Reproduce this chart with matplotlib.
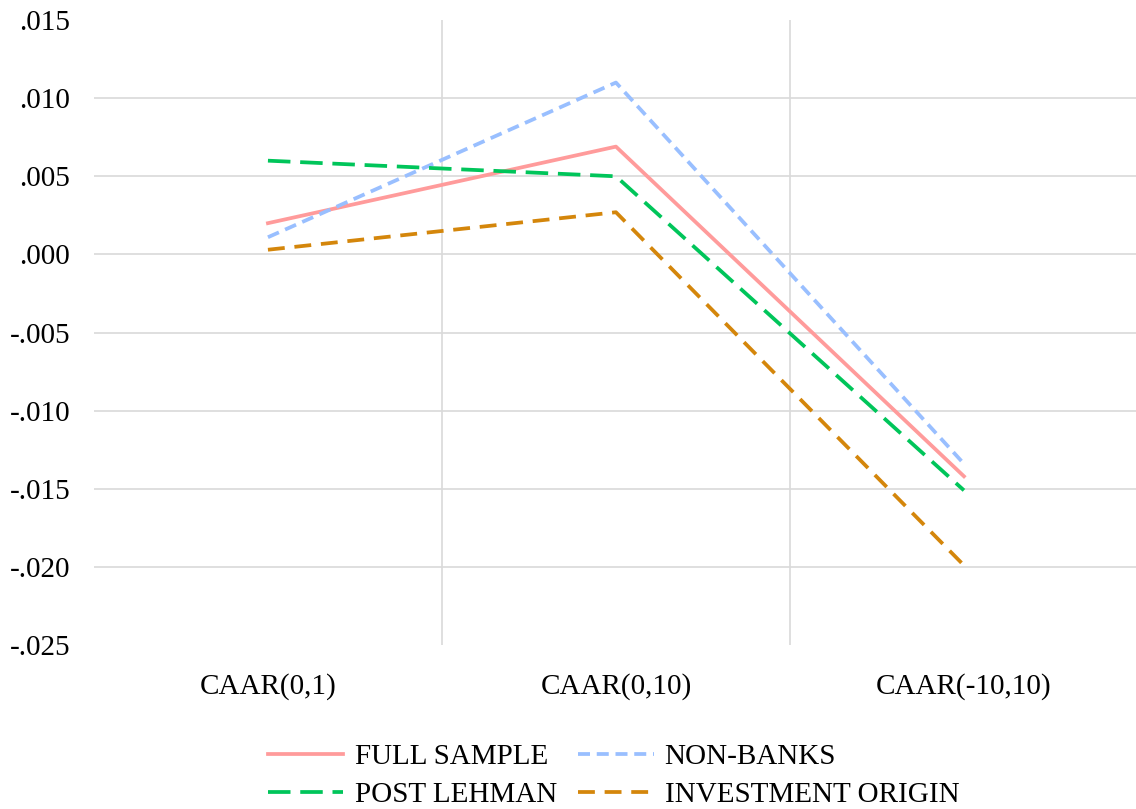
import matplotlib.pyplot as plt
from matplotlib.ticker import FuncFormatter, FixedLocator

categories = ['CAAR(0,1)', 'CAAR(0,10)', 'CAAR(-10,10)']
full_sample = [0.0020, 0.0069, -0.0142]
non_banks = [0.0011, 0.0110, -0.0134]
post_lehman = [0.0060, 0.0050, -0.0151]
investment_origin = [0.0003, 0.0027, -0.0199]

plt.rcParams['font.family'] = ['Liberation Serif', 'DejaVu Serif']

fig = plt.figure(figsize=(11.36, 8.09), dpi=100)
ax = fig.add_axes([0.0827, 0.2027, 0.919, 0.7725])

x = range(len(categories))
lw = 2.7
l1, = ax.plot(x, full_sample, color='#FF9B9B', lw=lw, label='FULL SAMPLE')
l2, = ax.plot(x, non_banks, color='#99BFFF', lw=lw, dashes=(3.2, 1.8), label='NON-BANKS')
l3, = ax.plot(x, post_lehman, color='#00C55A', lw=lw, dashes=(6, 2.6), label='POST LEHMAN')
l4, = ax.plot(x, investment_origin, color='#D4860B', lw=lw, dashes=(4.5, 2.6), label='INVESTMENT ORIGIN')

ax.set_xlim(-0.5, 2.5)
ax.set_ylim(-0.025, 0.015)
ax.set_yticks([-0.025 + 0.005 * i for i in range(9)])
ax.yaxis.set_major_formatter(FuncFormatter(lambda v, p: f"{round(v, 3):.3f}".replace('0.', '.', 1).replace('-.000', '.000')))
ax.set_xticks(list(x))
ax.set_xticklabels(categories)
ax.xaxis.set_minor_locator(FixedLocator([0.5, 1.5]))

ax.tick_params(axis='both', which='both', length=0, labelsize=21, colors='black')
ax.tick_params(axis='y', pad=17)
ax.tick_params(axis='x', pad=20)

ax.grid(axis='y', which='major', color='#D9D9D9', lw=1.2)
ax.grid(axis='x', which='minor', color='#D9D9D9', lw=1.2)
ax.set_axisbelow(True)
gl = ax.yaxis.get_gridlines()
gl[0].set_visible(False)
gl[-1].set_visible(False)
for s in ax.spines.values():
    s.set_visible(False)

# row-wise legend order: fill columns so rows read FULL/NON, POST/INVESTMENT
fig.legend([l1, l3, l2, l4], [l1.get_label(), l3.get_label(), l2.get_label(), l4.get_label()],
           loc='upper center', bbox_to_anchor=(0.54, 0.081), ncol=2, frameon=False,
           fontsize=21, handlelength=2.6, handletextpad=0.38, columnspacing=0.72,
           labelspacing=0.4, borderaxespad=0, borderpad=0)

fig.savefig('out.png', dpi=100)
